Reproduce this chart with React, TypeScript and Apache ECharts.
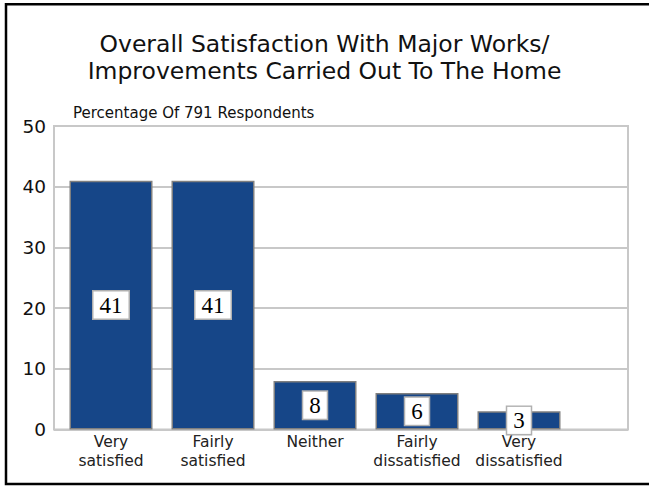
import React, { useEffect, useRef } from "react";
import * as echarts from "echarts";

const titleLines = [
  "Overall Satisfaction With Major Works/",
  "Improvements Carried Out To The Home",
];
const subtitle = "Percentage Of 791 Respondents";
const categories = [
  "Very\nsatisfied",
  "Fairly\nsatisfied",
  "Neither",
  "Fairly\ndissatisfied",
  "Very\ndissatisfied",
];
const values = [41, 41, 8, 6, 3];
const yTicks = { min: 0, max: 50, interval: 10 };

export default function App() {
  const ref = useRef<HTMLDivElement>(null);
  useEffect(() => {
    document.body.style.margin = "0";
    const chart = echarts.init(ref.current!, null, { renderer: "svg" });
    const font = "DejaVu Sans";
    chart.setOption({
      animation: false,
      backgroundColor: "#ffffff",
      title: [
        {
          text: titleLines.join("\n"),
          left: "center",
          top: 30,
          padding: 0,
          textStyle: {
            fontFamily: font,
            fontSize: 23.5,
            lineHeight: 27,
            fontWeight: "normal",
            color: "#111",
          },
        },
        {
          text: subtitle,
          left: 73,
          top: 105,
          padding: 0,
          textStyle: {
            fontFamily: font,
            fontSize: 15,
            fontWeight: "normal",
            color: "#111",
          },
        },
      ],
      graphic: [
        {
          type: "rect",
          shape: { x: 6, y: 4.3, width: 700, height: 479.7 },
          style: { fill: "none", stroke: "#000", lineWidth: 2.5 },
          silent: true,
        },
      ],
      grid: [
        {
          left: 54,
          top: 126,
          width: 574,
          height: 303.5,
          show: true,
          borderColor: "#c8c8c8",
          borderWidth: 2,
          backgroundColor: "transparent",
        },
        { left: 60, top: 126, width: 510, height: 303.5 },
      ],
      xAxis: [
        { gridIndex: 0, type: "value", show: false, min: 0, max: 1 },
        {
          gridIndex: 1,
          type: "category",
          data: categories,
          axisLine: { show: false },
          axisTick: { show: false },
          axisLabel: {
            interval: 0,
            margin: 3,
            fontFamily: font,
            fontSize: 15.5,
            lineHeight: 19,
            color: "#222",
          },
        },
      ],
      yAxis: [
        {
          gridIndex: 0,
          type: "value",
          min: yTicks.min,
          max: yTicks.max,
          interval: yTicks.interval,
          axisLine: { show: false },
          axisTick: { show: false },
          splitLine: { lineStyle: { color: "#c8c8c8", width: 2 } },
          axisLabel: {
            margin: 8,
            fontFamily: font,
            fontSize: 18.5,
            color: "#111",
          },
        },
        {
          gridIndex: 1,
          type: "value",
          min: yTicks.min,
          max: yTicks.max,
          show: false,
        },
      ],
      series: [
        {
          type: "bar",
          xAxisIndex: 1,
          yAxisIndex: 1,
          data: values,
          barWidth: 83,
          itemStyle: {
            color: "#164688",
            borderColor: "#7f7f7f",
            borderWidth: 1.5,
          },
          label: {
            show: true,
            position: "inside",
            formatter: "{c}",
            fontFamily: "Liberation Serif",
            fontSize: 23,
            color: "#000",
            backgroundColor: "#fff",
            borderColor: "#b0b0b0",
            borderWidth: 1.5,
            padding: [3, 6, 1, 6],
          },
        },
      ],
    });
    return () => chart.dispose();
  }, []);
  return <div ref={ref} style={{ width: 649, height: 486 }} />;
}
